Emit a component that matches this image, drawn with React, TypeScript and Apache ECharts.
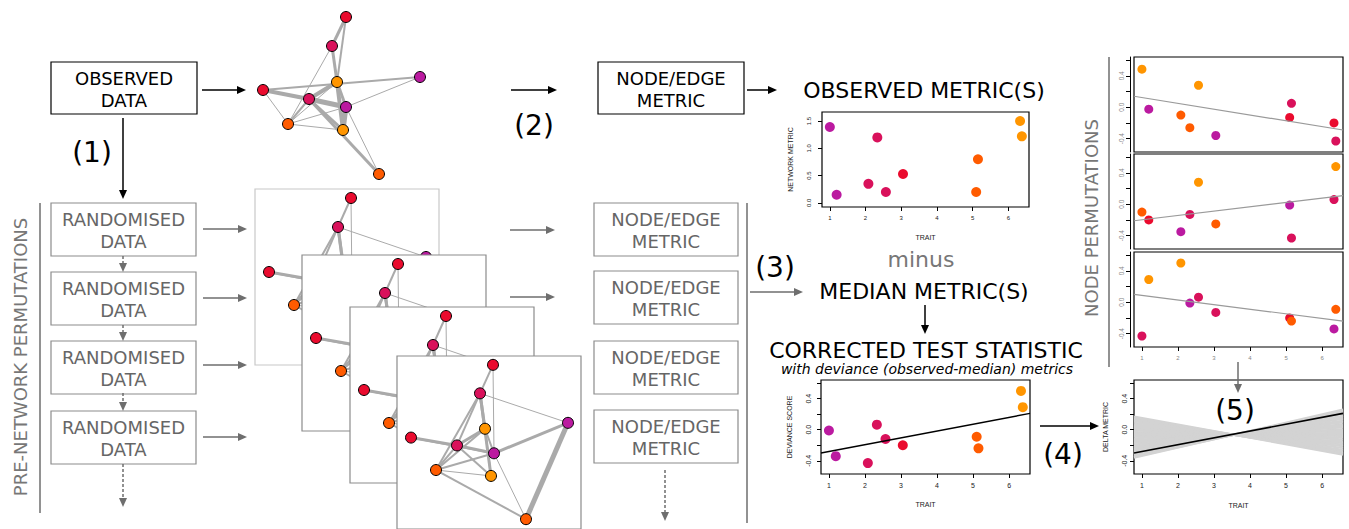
import React, { useEffect, useRef } from "react";
import * as echarts from "echarts";

// ---------- colours of trait classes ----------
const COLORS: Record<string, string> = {
  red: "#EA0B2E",
  crimson: "#D9115B",
  purple: "#BB1AA0",
  orange: "#FF9500",
  darkorange: "#FF5B00",
};

// ---------- scatter data ----------
const traitValues = [1.0, 1.19, 2.08, 2.33, 2.57, 3.05, 5.1, 5.15, 6.33, 6.38];
const traitColors = ["purple", "purple", "crimson", "crimson", "crimson", "red", "darkorange", "darkorange", "orange", "orange"];
const observedMetric = [1.39, 0.15, 0.35, 1.2, 0.2, 0.53, 0.2, 0.8, 1.5, 1.22];
const devianceScore = [-0.01, -0.34, -0.43, 0.065, -0.12, -0.2, -0.09, -0.24, 0.5, 0.29];
const devianceFit = [-0.3, 0.21];

const perm1Values = [0.485, -0.025, -0.1, -0.26, 0.28, -0.36, -0.13, 0.05, -0.2, -0.43];
const perm1Colors = ["orange", "purple", "darkorange", "darkorange", "orange", "purple", "red", "crimson", "red", "crimson"];
const perm1Fit = [0.14, -0.29];
const perm2Values = [-0.1, -0.2, -0.35, -0.13, 0.28, -0.25, -0.01, -0.43, 0.06, 0.48];
const perm2Colors = ["darkorange", "red", "purple", "crimson", "orange", "darkorange", "purple", "crimson", "crimson", "orange"];
const perm2Fit = [-0.21, 0.11];
const perm3Values = [-0.43, 0.29, 0.5, -0.01, 0.065, -0.13, -0.2, -0.24, -0.34, -0.09];
const perm3Colors = ["crimson", "orange", "orange", "purple", "crimson", "crimson", "red", "darkorange", "purple", "darkorange"];
const perm3Fit = [0.1, -0.24];

// regression lines of many permutations (left value, right value)
const deltaPermFits: [number, number][] = [
  [0.17, -0.32], [0.15, -0.3], [0.13, -0.28], [0.11, -0.26], [0.09, -0.235], [0.07, -0.21],
  [0.05, -0.19], [0.03, -0.17], [0.01, -0.15], [-0.01, -0.125], [-0.03, -0.1], [-0.05, -0.08],
  [-0.07, -0.06], [-0.09, -0.04], [-0.11, -0.015], [-0.13, 0.005], [-0.15, 0.03], [-0.17, 0.05],
  [-0.19, 0.07], [-0.21, 0.095], [-0.23, 0.115], [-0.25, 0.14], [-0.27, 0.16], [-0.29, 0.18],
  [-0.31, 0.205], [-0.33, 0.225], [-0.35, 0.245], [-0.36, 0.26],
];

const traitTicks = [1, 2, 3, 4, 5, 6];
const metricTicks = [0, 0.5, 1, 1.5];
const devTicks = [-0.4, -0.2, 0, 0.2, 0.4, 0.6];
const devTickLabels = [-0.4, 0, 0.4];

// ---------- networks ----------
const observedNetworkNodes: [number, number, string][] = [
  [106, 17, "red"], [92, 46, "crimson"], [97, 82, "orange"], [180, 77, "purple"], [23, 90, "red"],
  [69, 99, "crimson"], [106, 107, "purple"], [48, 124, "darkorange"], [103, 130, "orange"], [139, 174, "darkorange"],
];
const observedNetworkEdges: [number, number, number][] = [
  [0, 1, 3], [0, 2, 2], [1, 2, 3], [1, 7, 1], [4, 3, 2], [4, 5, 4], [4, 6, 2], [4, 7, 1],
  [5, 2, 4], [5, 6, 5], [5, 8, 3], [5, 7, 2], [5, 9, 3], [2, 6, 3], [2, 8, 4], [6, 8, 5],
  [7, 2, 1], [7, 6, 1], [7, 8, 1], [3, 6, 1], [6, 9, 1],
];
const cardNetworkNodes: [number, number, string][] = [
  [96, 9, "red"], [83, 38, "crimson"], [88, 74, "orange"], [14, 83, "red"], [60, 91, "crimson"],
  [97, 99, "purple"], [39, 116, "darkorange"], [94, 122, "orange"], [171, 68, "purple"], [129, 166, "darkorange"],
];
const cardNetworkEdges: [number, number, number][] = [
  [0, 1, 2], [0, 5, 1], [1, 8, 1], [1, 4, 2], [1, 6, 2], [1, 2, 3], [1, 7, 3], [3, 4, 3],
  [3, 5, 2], [4, 2, 3], [4, 5, 3], [4, 6, 2], [2, 5, 2], [6, 2, 2], [6, 5, 2], [6, 7, 1],
  [6, 9, 2], [5, 8, 3], [8, 9, 5], [5, 9, 1], [2, 7, 2], [4, 7, 2],
];

// ---------- layout constants ----------
const TRAIT_MIN = 0.78;
const TRAIT_MAX = 6.58;
const DEV_MIN = -0.57;
const DEV_MAX = 0.64;
const OBS_MIN = -0.075;
const OBS_MAX = 1.665;
const SANS = "DejaVu Sans";
const RFONT = "Liberation Sans";
const GRAYLINE = "#6e6e6e";
const GRAYBOX = "#8c8c8c";
const GRAYTEXT = "#666666";

const cards = [
  { left: 255, top: 189, border: "#c8c8c8" },
  { left: 302, top: 255, border: "#8c8c8c" },
  { left: 350, top: 307, border: "#8c8c8c" },
  { left: 397, top: 356, border: "#8c8c8c" },
];

function arrow(x1: number, y1: number, x2: number, y2: number, color: string, dashed = false, width = 1.5) {
  const dx = x2 - x1, dy = y2 - y1;
  const len = Math.hypot(dx, dy);
  const ux = dx / len, uy = dy / len;
  const hl = 9, hw = 4;
  const bx = x2 - ux * hl, by = y2 - uy * hl;
  return [
    { type: "line", z: 50, shape: { x1, y1, x2: bx, y2: by }, style: { stroke: color, lineWidth: width, lineDash: dashed ? [3, 2] : null } },
    { type: "polygon", z: 50, shape: { points: [[x2, y2], [bx - uy * hw, by + ux * hw], [bx + uy * hw, by - ux * hw]] }, style: { fill: color } },
  ];
}

function txt(text: string, x: number, y: number, size: number, color: string, extra: any = {}) {
  return {
    type: "text", x, y, z: 60, rotation: extra.rotation || 0,
    style: { text, fill: color, fontSize: size, fontFamily: SANS, fontStyle: extra.italic ? "italic" : "normal", align: "center", verticalAlign: "middle" },
  };
}

function box(x: number, y: number, w: number, h: number, color: string) {
  return { type: "rect", z: 40, shape: { x, y, width: w, height: h }, style: { fill: "#fff", stroke: color, lineWidth: 1.2 } };
}

function vline(x: number, y1: number, y2: number, color: string) {
  return { type: "line", z: 40, shape: { x1: x, y1, x2: x, y2 }, style: { stroke: color, lineWidth: 1.5 } };
}

function buildGraphics() {
  const g: any[] = [];
  g.push(box(51, 62, 146, 52, "#000"), txt("OBSERVED", 124, 78, 18, "#000"), txt("DATA", 124, 100, 18, "#000"));
  g.push(box(598, 62, 146, 52, "#000"), txt("NODE/EDGE", 671, 78, 18, "#000"), txt("METRIC", 671, 100, 18, "#000"));
  [203, 272, 341, 411].forEach((t) => {
    g.push(box(51, t, 145, 53, GRAYBOX), txt("RANDOMISED", 123.5, t + 16, 18, GRAYTEXT), txt("DATA", 123.5, t + 38.5, 18, GRAYTEXT));
  });
  [203, 271, 341, 410].forEach((t) => {
    g.push(box(594, t, 144, 53, GRAYBOX), txt("NODE/EDGE", 666, t + 16, 18, GRAYTEXT), txt("METRIC", 666, t + 38, 18, GRAYTEXT));
  });
  g.push(txt("(1)", 92, 152, 28, "#000"), txt("(2)", 534, 125, 28, "#000"), txt("(3)", 775, 267, 28, "#000"));
  g.push(txt("(4)", 1063, 454, 28, "#000"), { ...txt("(5)", 1235, 410, 28, "#000"), z: 120 });
  g.push(txt("OBSERVED METRIC(S)", 924, 90, 22, "#000"));
  g.push(txt("minus", 921, 259, 22, "#777"));
  g.push(txt("MEDIAN METRIC(S)", 924, 291, 22, "#000"));
  g.push(txt("CORRECTED TEST STATISTIC", 926, 350, 22, "#000"));
  g.push(txt("with deviance (observed-median) metrics", 927, 369, 14, "#000", { italic: true }));
  g.push(txt("PRE-NETWORK PERMUTATIONS", 20, 357, 18, "#777", { rotation: Math.PI / 2 }));
  g.push(txt("NODE PERMUTATIONS", 1091, 218, 18, "#777", { rotation: Math.PI / 2 }));
  g.push(vline(40, 203, 513, GRAYLINE), vline(747, 203, 523, GRAYLINE), vline(1109, 57, 367, GRAYLINE));
  g.push(...arrow(202, 90, 246, 90, "#000"));
  g.push(...arrow(123, 118, 123, 199, "#000"));
  g.push(...arrow(511, 90, 557, 90, "#000"));
  g.push(...arrow(747, 90, 777, 90, "#000"));
  g.push(...arrow(925, 305, 925, 334, "#000"));
  g.push(...arrow(1040, 426, 1099, 426, "#000"));
  [229, 298, 365, 437].forEach((y) => g.push(...arrow(203, y, 247, y, GRAYLINE)));
  [230, 297].forEach((y) => g.push(...arrow(510, y, 555, y, GRAYLINE)));
  g.push(...arrow(750, 292, 803, 292, GRAYLINE));
  g.push(...arrow(1238, 362, 1238, 393, GRAYLINE).map((e) => ({ ...e, z: 120 })));
  [[256, 272], [325, 341], [393, 411], [464, 507]].forEach(([a, b]) => g.push(...arrow(123, a, 123, b, GRAYLINE, true)));
  g.push(...arrow(665, 470, 665, 521, GRAYLINE, true));
  return g;
}

function graphSeries(idx: number, nodes: [number, number, string][], edges: [number, number, number][], z: number) {
  return {
    type: "graph", layout: "none", coordinateSystem: "cartesian2d", xAxisIndex: idx, yAxisIndex: idx,
    symbol: "circle", symbolSize: 11, silent: true, z,
    data: nodes.map(([x, y, c]) => ({ value: [x, y], itemStyle: { color: COLORS[c], borderColor: "#000", borderWidth: 1 } })),
    links: edges.map(([s, t, w]) => ({ source: s, target: t, lineStyle: { width: w } })),
    lineStyle: { color: "#aaaaaa", opacity: 1, curveness: 0 },
    label: { show: false },
    emphasis: { disabled: true },
  };
}

function hiddenAxis(idx: number, max: number, inverse: boolean) {
  return { type: "value", gridIndex: idx, min: 0, max, show: false, inverse };
}

function xAxisR(idx: number, showLabels: boolean, name: string, nameGap: number, labelSize = 7, labelColor = "#222") {
  return {
    type: "value", gridIndex: idx, min: TRAIT_MIN, max: TRAIT_MAX,
    axisLine: { show: false, onZero: false },
    axisTick: showLabels ? { show: true, customValues: traitTicks, length: 4, lineStyle: { color: "#000", width: 1 } } : { show: false },
    axisLabel: showLabels ? { show: true, customValues: traitTicks, fontSize: labelSize, color: labelColor, margin: 8, fontFamily: RFONT } : { show: false },
    splitLine: { show: false },
    name, nameLocation: "middle", nameGap,
    nameTextStyle: { fontSize: 7, color: "#222", fontFamily: RFONT },
  };
}

function yAxisR(idx: number, min: number, max: number, ticks: number[], labels: number[], name: string, nameGap: number, opts: any = {}) {
  return {
    type: "value", gridIndex: idx, min, max, offset: opts.offset || 0,
    axisLine: { show: !!opts.line, onZero: false, lineStyle: { color: "#000", width: 1 } },
    axisTick: { show: true, customValues: ticks, length: 4, lineStyle: { color: "#000", width: 1 } },
    axisLabel: {
      show: true, customValues: labels, rotate: 90, fontSize: opts.labelSize || 7, color: opts.labelColor || "#222",
      margin: opts.margin || 7, fontFamily: RFONT, formatter: (v: number) => v.toFixed(1),
    },
    splitLine: { show: false },
    name, nameLocation: "middle", nameGap, nameRotate: 90,
    nameTextStyle: { fontSize: 7, color: "#222", fontFamily: RFONT },
  };
}

function scatter(idx: number, ys: number[], colors: string[], size: number) {
  return {
    type: "scatter", xAxisIndex: idx, yAxisIndex: idx, symbolSize: size, silent: true, z: 3,
    data: traitValues.map((x, i) => ({ value: [x, ys[i]], itemStyle: { color: COLORS[colors[i]], opacity: 1 } })),
  };
}

function fitLine(idx: number, fit: number[], color: string, width: number) {
  return {
    type: "line", xAxisIndex: idx, yAxisIndex: idx, symbol: "none", silent: true, z: 5,
    data: [[TRAIT_MIN, fit[0]], [TRAIT_MAX, fit[1]]],
    lineStyle: { color, width },
  };
}

function buildOption() {
  const rGrid = (left: number, top: number, width: number, height: number) => ({
    left, top, width, height, show: true, backgroundColor: "transparent", borderColor: "#000", borderWidth: 1.2, z: 1,
  });
  const grids: any[] = [
    { left: 240, top: 0, width: 200, height: 190, show: false },
    ...cards.map((c, k) => ({ left: c.left, top: c.top, width: 184, height: 176, show: true, backgroundColor: "#fff", borderColor: c.border, borderWidth: 1.2, z: 10 + 2 * k })),
    rGrid(822, 112, 207, 95),
    rGrid(1134, 57, 209, 95),
    rGrid(1134, 154, 209, 95),
    rGrid(1134, 252, 209, 95),
    rGrid(821, 380, 209, 94),
    rGrid(1134, 380, 209, 94),
  ];
  const xAxes: any[] = [
    hiddenAxis(0, 200, false),
    ...cards.map((_, k) => hiddenAxis(k + 1, 184, false)),
    xAxisR(5, true, "TRAIT", 27, 6),
    xAxisR(6, false, "", 0),
    xAxisR(7, false, "", 0),
    xAxisR(8, true, "", 0, 6, "#888"),
    xAxisR(9, true, "TRAIT", 27),
    xAxisR(10, true, "TRAIT", 28),
  ];
  const permY = (idx: number) => yAxisR(idx, DEV_MIN, DEV_MAX, devTicks, devTickLabels, "", 0, { offset: 4, line: true, labelSize: 6.5, labelColor: "#888", margin: 5 });
  const yAxes: any[] = [
    hiddenAxis(0, 190, true),
    ...cards.map((_, k) => hiddenAxis(k + 1, 176, true)),
    yAxisR(5, OBS_MIN, OBS_MAX, metricTicks, metricTicks, "NETWORK METRIC", 28, { labelSize: 6, margin: 10 }),
    permY(6),
    permY(7),
    permY(8),
    yAxisR(9, DEV_MIN, DEV_MAX, devTicks, devTickLabels, "DEVIANCE SCORE", 28, { margin: 9 }),
    yAxisR(10, DEV_MIN, DEV_MAX, devTicks, devTickLabels, "DELTA METRIC", 25, { margin: 6 }),
  ];
  const series: any[] = [
    graphSeries(0, observedNetworkNodes, observedNetworkEdges, 2),
    ...cards.map((_, k) => graphSeries(k + 1, cardNetworkNodes, cardNetworkEdges, 11 + 2 * k)),
    scatter(5, observedMetric, traitColors, 10),
    scatter(6, perm1Values, perm1Colors, 9),
    fitLine(6, perm1Fit, "#9a9a9a", 1.2),
    scatter(7, perm2Values, perm2Colors, 9),
    fitLine(7, perm2Fit, "#9a9a9a", 1.2),
    scatter(8, perm3Values, perm3Colors, 9),
    fitLine(8, perm3Fit, "#9a9a9a", 1.2),
    scatter(9, devianceScore, traitColors, 10),
    fitLine(9, devianceFit, "#000", 1.4),
    {
      type: "lines", coordinateSystem: "cartesian2d", xAxisIndex: 10, yAxisIndex: 10, silent: true, z: 3,
      data: deltaPermFits.map(([a, b]) => ({ coords: [[TRAIT_MIN, a], [TRAIT_MAX, b]] })),
      lineStyle: { color: "#d3d3d3", width: 2.2, opacity: 1 },
    },
    fitLine(10, devianceFit, "#000", 1.6),
  ];
  return {
    animation: false,
    backgroundColor: "#fff",
    grid: grids,
    xAxis: xAxes,
    yAxis: yAxes,
    series,
    graphic: { elements: buildGraphics() },
  };
}

export default function App() {
  const ref = useRef<HTMLDivElement>(null);
  useEffect(() => {
    const chart = echarts.init(ref.current!, null, { renderer: "svg", width: 1349, height: 529 });
    chart.setOption(buildOption() as any);
    return () => chart.dispose();
  }, []);
  return <div ref={ref} style={{ position: "absolute", left: 0, top: 0, width: 1349, height: 529, background: "#fff" }} />;
}
